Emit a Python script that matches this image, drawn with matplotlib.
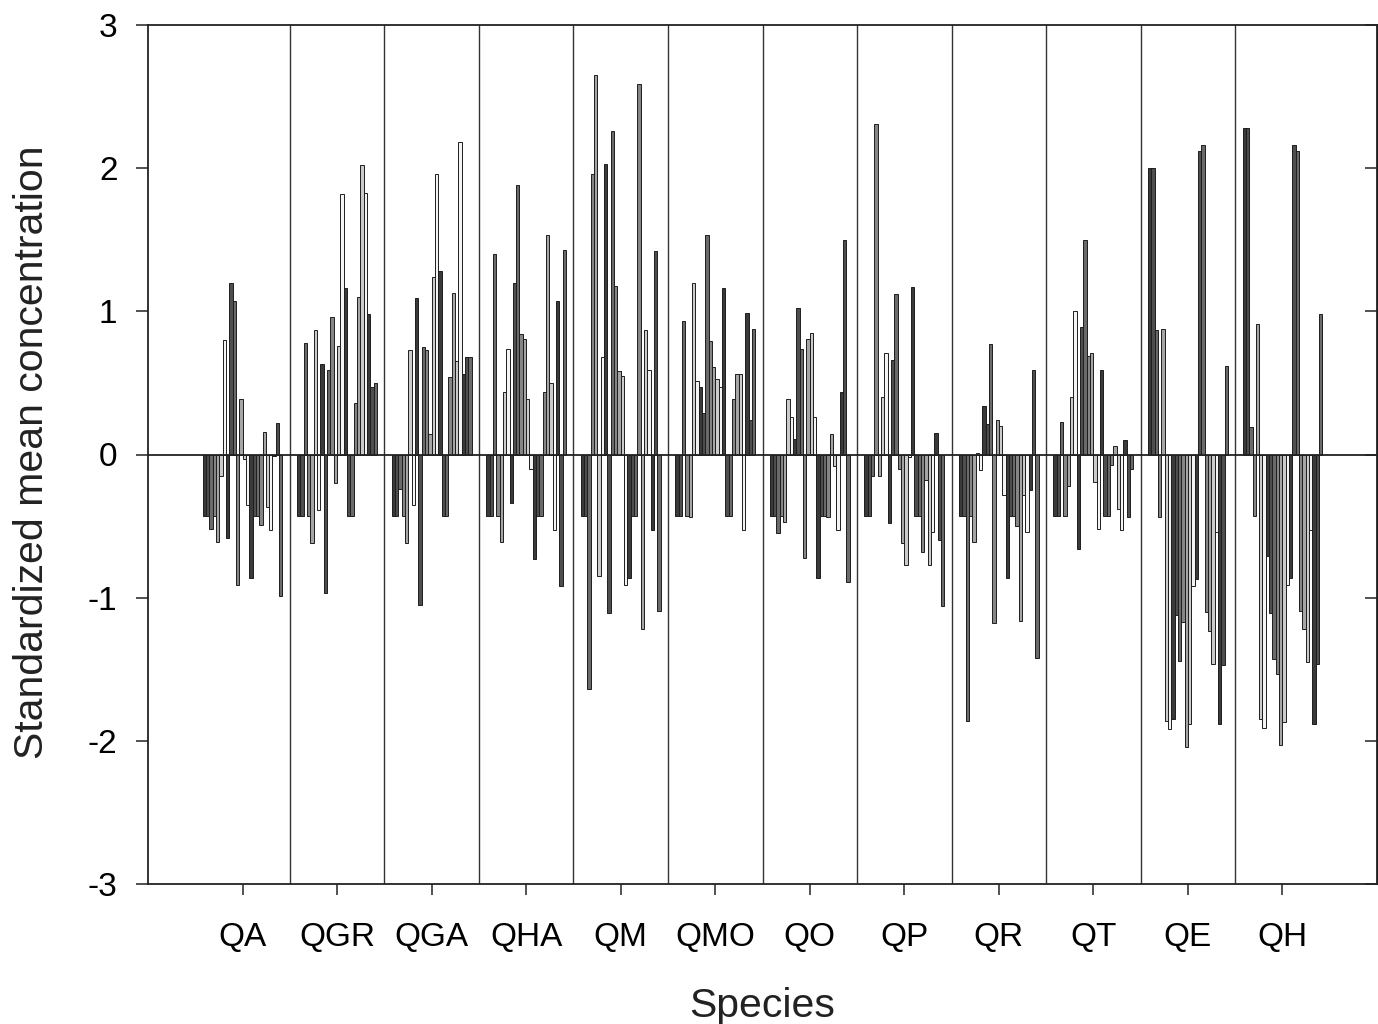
import matplotlib
matplotlib.use('Agg')
import matplotlib.pyplot as plt
import numpy as np

plt.rcParams['font.family'] = ['Liberation Sans', 'DejaVu Sans']
plt.rcParams['axes.unicode_minus'] = False

species = ["QA", "QGR", "QGA", "QHA", "QM", "QMO", "QO", "QP", "QR", "QT", "QE", "QH"]

# 24 compounds per species (standardized mean concentration)
QA = [-0.43, -0.43, -0.52, -0.43, -0.61, -0.15, 0.80, -0.58, 1.20, 1.07, -0.91, 0.39,
      -0.03, -0.35, -0.86, -0.43, -0.43, -0.49, 0.16, -0.37, -0.53, -0.01, 0.22, -0.99]
QGR = [-0.43, -0.43, 0.78, -0.43, -0.62, 0.87, -0.39, 0.63, -0.97, 0.59, 0.96, -0.20,
       0.76, 1.82, 1.16, -0.43, -0.43, 0.36, 1.10, 2.02, 1.83, 0.98, 0.47, 0.50]
QGA = [-0.43, -0.43, -0.24, -0.43, -0.62, 0.73, -0.35, 1.09, -1.05, 0.75, 0.73, 0.14,
       1.24, 1.96, 1.28, -0.43, -0.43, 0.54, 1.13, 0.65, 2.18, 0.56, 0.68, 0.68]
QHA = [-0.43, -0.43, 1.40, -0.43, -0.61, 0.44, 0.74, -0.34, 1.20, 1.88, 0.84, 0.81,
       0.39, -0.10, -0.73, -0.43, -0.43, 0.44, 1.53, 0.50, -0.53, 1.07, -0.92, 1.43]
QM = [-0.43, -0.43, -1.64, 1.96, 2.65, -0.85, 0.68, 2.03, -1.11, 2.26, 1.18, 0.58,
      0.55, -0.91, -0.86, -0.43, -0.43, 2.59, -1.22, 0.87, 0.59, -0.53, 1.42, -1.09]
QMO = [-0.43, -0.43, 0.93, -0.43, -0.44, 1.20, 0.51, 0.47, 0.29, 1.53, 0.79, 0.61,
       0.53, 0.47, 1.16, -0.43, -0.43, 0.39, 0.56, 0.56, -0.53, 0.99, 0.24, 0.88]
QO = [-0.43, -0.43, -0.55, -0.43, -0.47, 0.39, 0.26, 0.11, 1.02, 0.74, -0.72, 0.81,
      0.85, 0.26, -0.86, -0.43, -0.43, -0.44, 0.14, -0.08, -0.53, 0.44, 1.50, -0.89]
QP = [-0.43, -0.43, -0.15, 2.31, -0.15, 0.40, 0.71, -0.48, 0.66, 1.12, -0.10, -0.62,
      -0.77, -0.02, 1.17, -0.43, -0.43, -0.68, -0.18, -0.77, -0.54, 0.15, -0.60, -1.06]
QR = [-0.43, -0.43, -1.86, -0.43, -0.61, 0.01, -0.11, 0.34, 0.21, 0.77, -1.18, 0.24,
      0.20, -0.28, -0.86, -0.43, -0.43, -0.50, -1.16, -0.28, -0.54, -0.25, 0.59, -1.42]
QT = [-0.43, -0.43, 0.23, -0.43, -0.22, 0.40, 1.00, -0.66, 0.89, 1.50, 0.69, 0.71,
      -0.19, -0.52, 0.59, -0.43, -0.43, -0.07, 0.06, -0.38, -0.53, 0.10, -0.44, -0.10]
QE = [2.00, 2.00, 0.87, -0.44, 0.88, -1.86, -1.92, -1.85, -1.12, -1.44, -1.17, -2.04,
      -1.88, -0.92, -0.87, 2.12, 2.16, -1.10, -1.23, -1.46, -0.54, -1.88, -1.47, 0.62]
QH = [2.28, 2.28, 0.19, -0.43, 0.91, -1.85, -1.91, -0.71, -1.11, -1.43, -1.53, -2.03,
      -1.87, -0.91, -0.86, 2.16, 2.12, -1.09, -1.22, -1.45, -0.53, -1.88, -1.46, 0.98]

values = [QA, QGR, QGA, QHA, QM, QMO, QO, QP, QR, QT, QE, QH]

shades = ['#3a3a3a', '#4e4e4e', '#6a6a6a', '#858585', '#a5a5a5', '#cbcbcb', '#f4f4f4']

W, H = 1378, 1024
fig = plt.figure(figsize=(W / 100, H / 100), dpi=100)
ax = fig.add_axes([148 / W, 1 - 884 / H, (1377 - 148) / W, (884 - 25) / H])

n_series = len(QA)
bw = 0.0352
xc = np.arange(len(species))
for j in range(n_series):
    heights = [v[j] for v in values]
    ax.bar(xc + (j - (n_series - 1) / 2) * bw, heights, width=bw,
           color=shades[j % len(shades)], edgecolor='#1e1e1e', linewidth=0.7, zorder=2)

ax.axhline(0, color='#222222', lw=1.3, zorder=3)
for b in np.arange(0.5, len(species) - 1, 1.0):
    ax.axvline(b, color='#333333', lw=1.0, zorder=1)

ax.set_xlim(-1, 12)
ax.set_ylim(-3, 3)
ax.set_xticks(xc)
ax.set_xticklabels(species)
ax.set_yticks(range(-3, 4))
ax.tick_params(axis='x', direction='out', length=8, width=1.1, labelsize=24, pad=19, color='#222222')
ax.tick_params(axis='y', direction='out', length=9, width=1.1, labelsize=24, pad=13, color='#222222')
for s in ax.spines.values():
    s.set_linewidth(1.3)
    s.set_color('#222222')

sec = ax.secondary_yaxis('right')
sec.set_yticks(range(-3, 4))
sec.tick_params(direction='in', length=9, width=1.1, labelright=False, color='#222222')

fig.text(32 / W, 1 - 452 / H, "Standardized mean concentration", rotation=90,
         ha='center', va='center', fontsize=29.5, color='#222222')
fig.text(762 / W, 1 - 1006 / H, "Species", ha='center', va='center', fontsize=29.5,
         color='#222222')

fig.savefig('out.png', dpi=100)
